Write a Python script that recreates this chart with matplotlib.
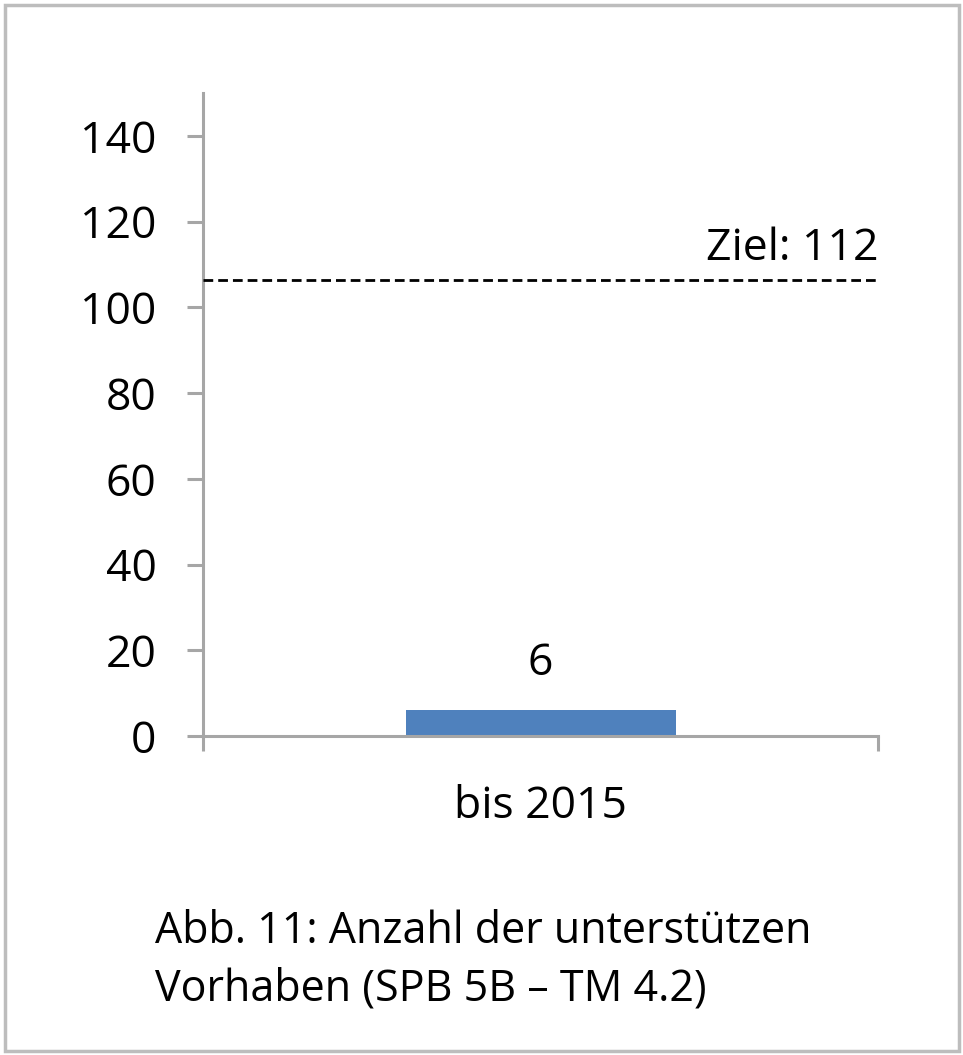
import matplotlib
matplotlib.use("Agg")
import matplotlib.pyplot as plt
from matplotlib.patches import Rectangle

categories = ["bis 2015"]
values = [6]
target_label = 112
target_line = 106.3
y_ticks = [0, 20, 40, 60, 80, 100, 120, 140]
caption_lines = ["Abb. 11: Anzahl der unterstützen", "Vorhaben (SPB 5B – TM 4.2)"]

plt.rcParams['font.family'] = ['Open Sans', 'DejaVu Sans']

W, H = 963, 1055
PX = 72 / 100  # points per pixel at 100 dpi
fig = plt.figure(figsize=(W / 100, H / 100), dpi=100)
fig.patch.set_facecolor("white")

# border around the whole figure
fig.patches.append(Rectangle((5 / W, 4 / H), 954 / W, 1046 / H, transform=fig.transFigure,
                             fill=False, edgecolor="#bdbdbd", linewidth=2.5))

ax = fig.add_axes([203 / W, 1 - 736 / H, 675 / W, (736 - 93) / H])
grey = "#a6a6a6"
x = list(range(len(categories)))
ax.bar(x, values, width=0.4, color="#4f81bd", zorder=2)
ax.set_xlim(-0.5, len(categories) - 0.5)
ax.set_ylim(0, 150)

for s in ["top", "right"]:
    ax.spines[s].set_visible(False)
for s in ["left", "bottom"]:
    ax.spines[s].set_color(grey)
    ax.spines[s].set_linewidth(2.2)

ax.set_yticks(y_ticks)
ax.set_yticklabels([str(t) for t in y_ticks])
ax.tick_params(axis="y", direction="out", length=11.5, width=2.2, color=grey,
               labelsize=32, pad=22, labelcolor="black")

ax.set_xticks([-0.5 + i for i in range(len(categories) + 1)])
ax.set_xticklabels([])
ax.tick_params(axis="x", which="major", direction="out", length=11, width=2.2, color=grey)

# category labels
for xi, cat in zip(x, categories):
    ax.annotate(cat, (xi, 0), xycoords=("data", "axes fraction"),
                xytext=(0, -82 * PX), textcoords="offset points",
                ha="center", va="baseline", fontsize=32)

# target line
ax.axhline(target_line, color="black", linestyle=(0, (3.5, 1.8)), linewidth=2.0, zorder=3)
ax.annotate(f"Ziel: {target_label}", (1.0, target_line), xycoords=("axes fraction", "data"),
            xytext=(0, 20 * PX), textcoords="offset points",
            ha="right", va="baseline", fontsize=32)

# value labels
for xi, v in zip(x, values):
    ax.annotate(str(v), (xi, v), xytext=(0, 35 * PX), textcoords="offset points",
                ha="center", va="baseline", fontsize=32)

# caption
for line, y_base in zip(caption_lines, [943, 1000]):
    fig.text(155 / W, 1 - y_base / H, line, ha="left", va="baseline", fontsize=31)

fig.savefig("out.png", dpi=100, facecolor="white")
